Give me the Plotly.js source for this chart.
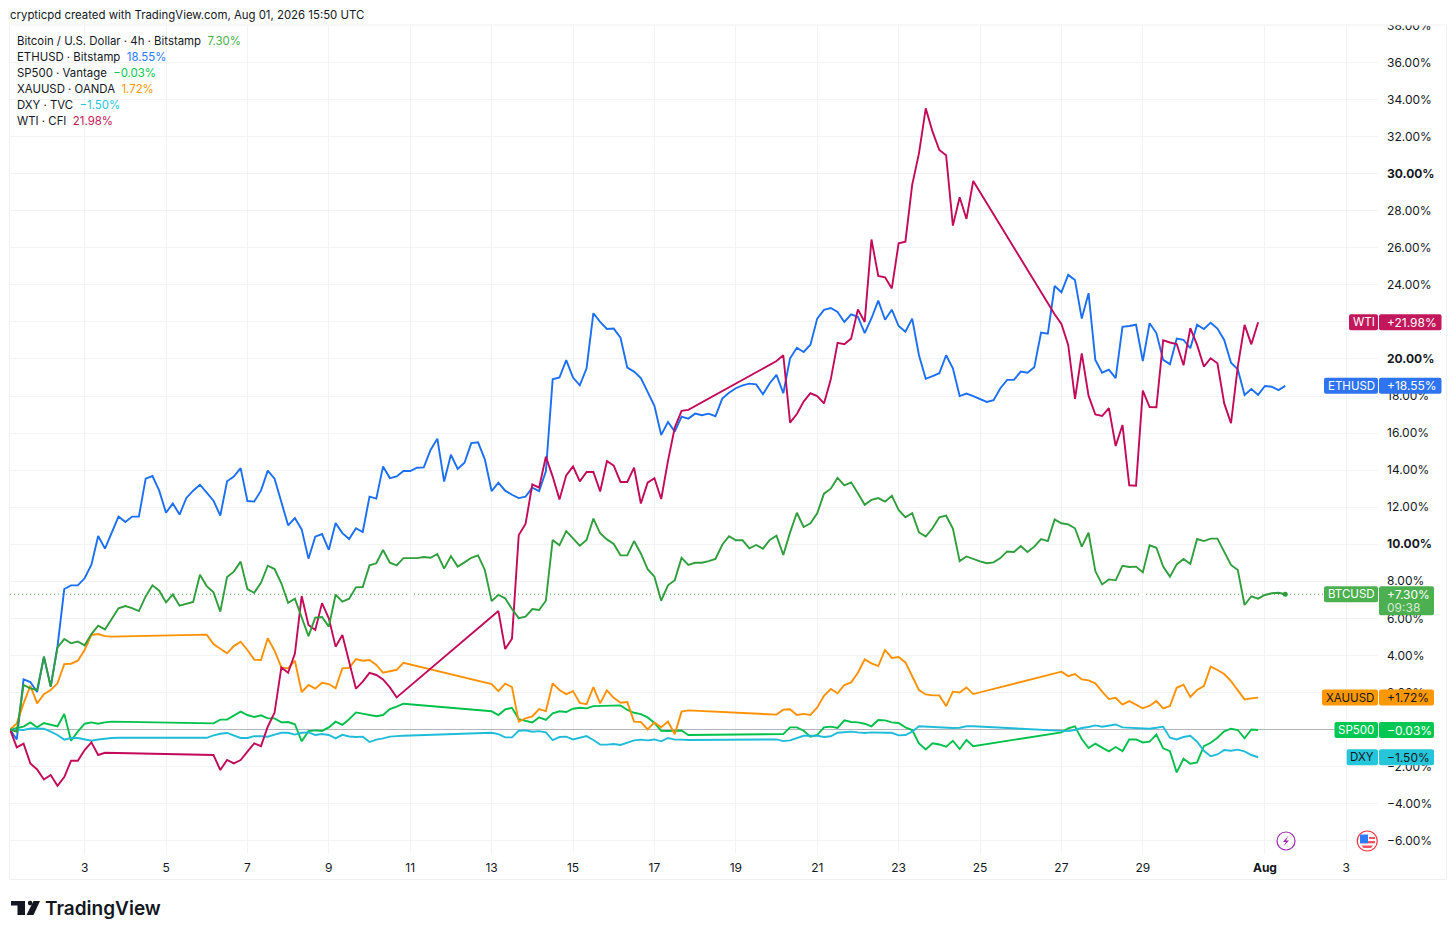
<!DOCTYPE html>
<html>
<head>
<meta charset="utf-8">
<script src="https://cdn.plot.ly/plotly-3.0.1.min.js"></script>
<style>
  html, body { margin: 0; padding: 0; background: #fff; }
  #chart { width: 1456px; height: 937px; }
</style>
</head>
<body>
<div id="chart"></div>
<script>
// percent change since the first 4h bar, one value per bar, null = market closed
var ethusd = [
  0,-0.54,2.70,2.56,2.02,3.93,2.31,4.47,7.58,7.78,
  7.78,8.16,8.89,10.44,9.76,10.59,11.49,11.2,11.49,11.49,
  13.54,13.68,12.89,11.7,12.2,11.6,12.5,12.89,13.21,12.78,
  12.35,11.54,13.4,13.65,14.11,12.33,12.3,12.89,13.97,13.54,
  12.31,11.02,11.41,10.8,9.22,10.41,10.55,9.7,11.14,10.6,
  10.28,10.86,10.66,12.57,12.46,14.2,13.57,13.66,13.95,13.95,
  14.13,14.15,15.09,15.7,13.38,14.83,14.06,14.4,15.46,15.5,
  14.58,12.87,13.32,12.89,12.67,12.49,12.57,13.05,12.87,13.93,
  18.9,19.0,19.94,19.0,18.58,19.5,22.47,22.0,21.62,21.64,
  21.15,19.53,19.32,18.97,18.22,17.47,15.9,16.6,16.08,16.89,
  16.78,17.05,16.96,17.05,16.91,17.86,18.18,18.42,18.58,18.67,
  18.63,18.09,18.69,19.14,18.15,20.04,20.61,20.38,20.77,22.18,
  22.65,22.75,22.54,22.0,22.41,22.28,21.4,22.2,23.15,22.12,
  22.66,21.78,21.47,22.18,20.2,18.93,19.08,19.23,20.2,19.5,
  18.0,18.13,18.0,17.84,17.68,17.77,18.42,18.87,18.87,19.32,
  19.26,19.55,21.42,21.37,23.94,23.6,24.54,24.26,22.18,23.55,
  19.95,19.26,19.42,18.97,21.73,21.78,21.85,19.89,21.93,21.4,
  19.95,19.72,21.1,21.03,20.58,21.85,21.62,21.96,21.64,21.03,
  19.8,19.44,18.06,18.38,18.06,18.54,18.5,18.32,18.55
];
var btcusd = [
  0,-0.12,2.4,2.22,2.13,3.93,2.31,4.43,4.88,4.65,
  4.75,4.54,5.15,5.6,5.4,5.94,6.54,6.66,6.55,6.39,
  7.18,7.78,7.49,6.86,7.29,6.68,6.8,6.88,8.35,7.74,
  7.4,6.36,8.23,8.52,9.06,7.58,7.38,7.92,8.84,8.66,
  7.89,6.84,7.06,6.0,5.04,6.03,6.07,5.55,7.27,6.9,
  7.06,7.67,7.69,8.86,8.97,9.69,9.0,8.86,9.25,9.25,
  9.25,9.31,9.27,9.47,8.68,9.36,8.79,9.02,9.27,9.4,
  8.61,6.93,7.27,7.08,6.5,6.01,6.09,6.5,6.45,6.95,
  10.23,9.94,10.71,10.32,9.92,10.23,11.38,10.59,10.26,10.01,
  9.4,9.4,10.17,9.5,8.65,8.25,6.95,7.78,8.06,9.26,
  8.88,9.0,9.0,9.09,9.2,9.97,10.43,10.21,10.21,9.78,
  9.96,9.76,10.23,10.46,9.42,10.64,11.7,10.93,11.13,11.67,
  12.73,13.0,13.58,13.18,13.34,12.75,12.13,12.39,12.49,12.3,
  12.62,11.85,11.45,11.67,10.64,10.41,10.86,11.45,11.54,10.84,
  9.09,9.34,9.2,9.07,8.97,9.02,9.25,9.61,9.58,9.9,
  9.58,9.87,10.28,10.17,11.34,11.13,11.07,10.86,9.87,10.62,
  8.55,7.83,8.1,8.05,8.84,8.77,8.79,8.48,9.94,9.81,
  8.79,8.25,8.91,9.2,8.93,10.28,10.17,10.3,10.3,9.6,
  8.88,8.61,6.72,7.19,7.06,7.26,7.35,7.38,7.3
];
var wti = [
  0,-0.97,-0.77,-1.83,-2.16,-2.7,-2.46,-3.04,-2.57,-1.69,
  -1.69,-1.11,-0.7,-1.38,-1.26,null,null,null,null,null,
  null,null,null,null,null,null,null,null,null,null,
  -1.38,-2.19,-1.65,-1.83,-1.65,-1.2,-0.75,-0.9,0.15,0.9,
  3.35,3.06,4.1,7.2,5.64,5.37,6.82,6.0,4.47,5.1,
  3.66,2.2,2.58,3.05,2.94,2.7,2.27,1.73,null,null,
  null,null,null,null,null,null,null,null,null,null,
  null,null,6.39,4.34,4.9,10.5,11.09,13.23,13.05,14.73,
  13.65,12.42,13.72,14.2,13.39,13.9,13.9,12.85,14.49,14.24,
  13.36,13.36,14.13,12.2,13.32,13.56,12.44,14.5,16.3,17.2,
  17.25,null,null,null,null,null,null,null,null,null,
  null,null,null,19.89,20.2,16.56,17.03,17.7,18.15,18.0,
  17.6,18.9,20.87,20.8,21.1,22.68,22.0,26.45,24.48,24.41,
  23.81,26.24,26.33,29.4,31.1,33.53,32.27,31.28,31.0,27.2,
  28.73,27.56,29.61,null,null,null,null,null,null,null,
  null,null,null,null,22.41,21.89,20.76,17.84,20.3,18.02,
  17.0,16.92,17.35,15.3,16.44,13.18,13.16,18.29,17.4,17.39,
  21.01,20.89,20.81,19.66,21.66,20.76,19.59,20.04,19.77,17.6,
  16.53,19.59,21.84,20.79,21.98
];
var xauusd = [
  0,0.33,1.41,2.36,1.41,1.9,2.13,2.49,3.53,3.55,
  3.71,4.29,5.1,5.15,5.04,5.01,null,null,null,null,
  null,null,null,null,null,null,null,null,null,5.12,
  4.61,4.36,4.11,4.5,4.74,4.29,3.77,3.75,4.92,4.25,
  3.35,3.3,3.71,2.02,2.4,2.2,2.52,2.45,2.22,3.3,
  3.32,3.8,3.71,3.75,3.48,3.06,3.13,3.22,3.6,null,
  null,null,null,null,null,null,null,null,null,null,
  null,2.45,2.07,2.47,2.29,0.42,0.6,0.71,1.1,0.99,
  2.49,2.13,1.91,2.07,1.43,1.37,2.29,1.41,2.11,1.71,
  1.44,1.48,0.42,0.4,0.0,0.38,0.12,0.43,-0.26,0.96,
  1.03,null,null,null,null,null,null,null,null,null,
  null,null,null,0.8,1.07,1.09,0.78,0.84,0.78,1.19,
  1.82,2.18,1.95,2.4,2.54,3.06,3.78,3.57,3.42,4.29,
  3.86,3.91,3.62,2.85,2.13,1.89,1.84,1.84,1.26,2.04,
  2.0,2.27,1.91,null,null,null,null,null,null,null,
  null,null,null,null,null,3.12,2.88,2.99,2.7,2.65,
  2.49,2.04,1.64,1.71,1.34,1.53,1.32,1.14,1.28,1.53,
  1.14,1.26,2.25,2.42,1.75,2.13,2.34,3.39,3.21,2.99,
  2.61,2.13,1.62,1.68,1.72
];
var sp500 = [
  0,0.06,0.15,0.38,0.11,0.35,0.24,0.17,0.83,-0.61,
  -0.12,0.31,0.38,0.31,0.38,0.42,null,null,null,null,
  null,null,null,null,null,null,null,null,null,null,
  0.33,0.53,0.53,0.74,0.96,0.78,0.67,0.76,0.6,0.6,
  0.38,0.4,0.28,-0.64,-0.09,-0.05,-0.08,0.11,0.42,0.25,
  0.55,0.92,0.85,0.78,0.71,0.78,1.1,1.23,1.39,null,
  null,null,null,null,null,null,null,null,null,null,
  null,0.98,0.78,1.08,1.17,0.56,0.45,0.38,0.65,0.51,
  0.87,0.98,0.94,1.12,1.17,1.14,1.26,1.26,1.28,1.28,
  1.3,1.05,0.9,0.83,0.65,0.35,-0.07,-0.08,-0.06,-0.06,
  -0.3,null,null,null,null,null,null,null,null,null,
  null,null,null,null,-0.25,0.11,0.11,-0.07,-0.39,-0.3,
  0.11,0.15,0.08,0.49,0.4,0.38,0.31,0.17,0.51,0.49,
  0.38,0.35,0.11,-0.03,-0.75,-1.08,-0.75,-0.81,-0.93,-0.61,
  -1.06,-0.57,-0.9,null,null,null,null,null,null,null,
  null,null,null,null,null,-0.16,0.06,0.17,-0.52,-1.0,
  -0.77,-0.98,-1.18,-0.95,-1.17,-0.54,-0.54,-0.7,-0.66,-0.28,
  -1.02,-1.17,-2.32,-1.58,-1.85,-1.78,-0.9,-0.72,-0.45,-0.1,
  0.04,-0.03,-0.48,0.0,-0.03
];
var dxy = [
  0,0,-0.03,0.06,0.06,0.04,-0.12,-0.3,-0.55,-0.46,
  -0.46,-0.52,-0.61,-0.54,-0.48,-0.46,-0.45,null,null,null,
  null,null,null,null,null,null,null,null,null,-0.45,
  -0.32,-0.23,-0.19,-0.34,-0.46,-0.46,-0.36,-0.37,-0.39,-0.28,
  -0.18,-0.18,-0.28,-0.18,-0.16,-0.3,-0.25,-0.3,-0.48,-0.29,
  -0.38,-0.41,-0.39,-0.68,-0.55,-0.48,-0.39,-0.36,-0.34,null,
  null,null,null,null,null,null,null,null,null,null,
  null,-0.18,-0.25,-0.43,-0.43,-0.07,-0.05,-0.12,-0.09,-0.16,
  -0.57,-0.41,-0.39,-0.54,-0.46,-0.36,-0.57,-0.82,-0.82,-0.79,
  -0.84,-0.72,-0.59,-0.55,-0.59,-0.54,-0.64,-0.46,-0.55,-0.55,
  -0.57,null,null,null,null,null,null,null,null,null,
  null,null,null,-0.54,-0.63,-0.59,-0.46,-0.34,-0.34,-0.34,
  -0.41,-0.37,-0.18,-0.14,-0.12,-0.16,-0.19,-0.16,-0.19,-0.18,
  -0.18,-0.32,-0.3,-0.12,0.17,0.15,0.13,0.09,0.06,0.08,
  0.09,0.17,0.17,null,null,null,null,null,null,null,
  null,null,null,null,-0.07,-0.1,-0.09,-0.03,0.08,0.13,
  0.22,0.15,0.2,0.27,0.11,0.09,0.08,0.04,0.04,0.09,
  0.15,-0.45,-0.54,-0.41,-0.34,-0.66,-1.15,-1.44,-1.35,-1.11,
  -1.15,-1.09,-1.18,-1.38,-1.5
];

var xTickVals = [3,5,7,9,11,13,15,17,19,21,23,25,27,29,32,34];
var xTickText = ['3','5','7','9','11','13','15','17','19','21','23','25','27','29','<b>Aug</b>','3'];
var yTickVals = [-6,-4,-2,0,2,4,6,8,10,12,14,16,18,20,22,24,26,28,30,32,34,36,38];
var yTickText = ['−6.00%','−4.00%','−2.00%','0.00%','2.00%','4.00%','6.00%','8.00%','<b>10.00%</b>','12.00%','14.00%','16.00%','18.00%','<b>20.00%</b>','22.00%','24.00%','26.00%','28.00%','<b>30.00%</b>','32.00%','34.00%','36.00%','38.00%'];

var legendNames = ['Bitcoin / U.S. Dollar · 4h · Bitstamp','ETHUSD · Bitstamp','SP500 · Vantage','XAUUSD · OANDA','DXY · TVC','WTI · CFI'];
var legendValues = ['7.30%','18.55%','−0.03%','1.72%','−1.50%','21.98%'];
var legendColors = ['#4caf50','#2979ff','#00c853','#ff9800','#26c6da','#c2185b'];

// price tags on the right
var tagNames = ['WTI','ETHUSD','BTCUSD','XAUUSD','SP500','DXY'];
var tagTexts = ['+21.98%','+18.55%','+7.30%','+1.72%','−0.03%','−1.50%'];
var tagValues = [21.98,18.55,7.30,1.72,-0.03,-1.50];
var tagColors = ['#c2185b','#2e73f0','#4caf50','#ff9800','#00c853','#26c6da'];
var tagInk = ['#fff','#fff','#fff','#131722','#fff','#131722'];
var tagLeft = [1349,1324,1324,1322,1334.5,1346.7];
var tagRight = [1441.5,1441.5,1434,1434,1434,1434];

// plot box in page pixels
var L = 10, R = 1378, T = 25, B = 853;
function px(x) { return (x - L) / (R - L); }
function py(y) { return (B - y) / (B - T); }

var days = [];
for (var i = 0; i < ethusd.length; i++) days.push(1 + 4/24 + i/6);

function line(name, y, color) {
  return {x: days, y: y, name: name, type: 'scatter', mode: 'lines', connectgaps: true,
          line: {color: color, width: 1.9}, hoverinfo: 'skip'};
}
var traces = [
  line('ETHUSD', ethusd, '#1a6ff2'),
  line('SP500', sp500, '#00c04b'),
  line('XAUUSD', xauusd, '#ff9100'),
  line('DXY', dxy, '#1fbcd9'),
  line('WTI', wti, '#c2095a'),
  line('BTCUSD', btcusd, '#2f9e3c'),
  {x: [days[days.length-1]], y: [btcusd[btcusd.length-1]], type: 'scatter', mode: 'markers',
   marker: {color: '#2f9e3c', size: 5}, hoverinfo: 'skip'}
];

function rrect(x0, y0, x1, y1, r) {
  return 'M' + (x0+r) + ',' + y0 + ' L' + (x1-r) + ',' + y0 + ' Q' + x1 + ',' + y0 + ' ' + x1 + ',' + (y0+r) +
    ' L' + x1 + ',' + (y1-r) + ' Q' + x1 + ',' + y1 + ' ' + (x1-r) + ',' + y1 +
    ' L' + (x0+r) + ',' + y1 + ' Q' + x0 + ',' + y1 + ' ' + x0 + ',' + (y1-r) +
    ' L' + x0 + ',' + (y0+r) + ' Q' + x0 + ',' + y0 + ' ' + (x0+r) + ',' + y0 + ' Z';
}
function pagePath(points) {
  return 'M' + points.map(function(p) { return px(p[0]) + ',' + py(p[1]); }).join(' L') + ' Z';
}
function pixelShape(cx, cy, x0, y0, x1, y1, fill, stroke, w, kind) {
  return {type: kind || 'rect', layer: 'above', xref: 'paper', yref: 'paper', xsizemode: 'pixel', ysizemode: 'pixel',
          xanchor: px(cx), yanchor: py(cy), x0: x0, y0: y0, x1: x1, y1: y1,
          fillcolor: fill, line: {color: stroke || fill, width: w || 0}};
}

var shapes = [
  // hides the upper half of the top tick label
  {type: 'rect', layer: 'above', xref: 'paper', yref: 'paper', x0: px(1380), x1: px(1445), y0: py(25), y1: py(10),
   fillcolor: '#fff', line: {width: 0}},
  // frame
  {type: 'rect', layer: 'above', xref: 'paper', yref: 'paper', x0: px(9.5), x1: px(1446.5), y0: py(879.5), y1: py(25),
   line: {color: '#f0f1f3', width: 1}},
  // last price line
  {type: 'line', layer: 'below', xref: 'paper', yref: 'y', x0: 0, x1: px(1324), y0: 7.30, y1: 7.30,
   line: {color: '#4caf50', width: 1, dash: '1px,3px'}},
  // logo
  {type: 'path', layer: 'above', xref: 'paper', yref: 'paper', line: {width: 0}, fillcolor: '#131722',
   path: pagePath([[11,901],[25,901],[25,915],[17.5,915],[17.5,905.5],[11,905.5]])},
  {type: 'path', layer: 'above', xref: 'paper', yref: 'paper', line: {width: 0}, fillcolor: '#131722',
   path: pagePath([[33.5,901],[40,901],[33.5,915],[26.5,915]])},
  {type: 'circle', layer: 'above', xref: 'paper', yref: 'paper', line: {width: 0}, fillcolor: '#131722',
   x0: px(27.8), x1: px(32.4), y0: py(905.4), y1: py(900.8)},
  // lightning event marker
  pixelShape(1286, 841, -9, -9, 9, 9, '#fff', '#9c27b0', 1.2, 'circle'),
  {type: 'path', layer: 'above', xref: 'paper', yref: 'paper', line: {width: 0}, fillcolor: '#9c27b0',
   path: pagePath([[1288.5,835.5],[1283,842],[1286,842],[1283.5,846.5],[1289,840.5],[1286,840.5]])},
  // flag event marker
  pixelShape(1367.3, 841, -10, -10, 10, 10, '#fff', '#f23645', 1.2, 'circle'),
  {type: 'path', layer: 'above', xref: 'paper', yref: 'paper', line: {width: 0}, fillcolor: '#f7525f',
   path: pagePath([[1369,837],[1375,837],[1375,839],[1369,839]])},
  {type: 'path', layer: 'above', xref: 'paper', yref: 'paper', line: {width: 0}, fillcolor: '#f7525f',
   path: pagePath([[1360,841],[1375,841],[1375,843.3],[1360,843.3]])},
  {type: 'path', layer: 'above', xref: 'paper', yref: 'paper', line: {width: 0}, fillcolor: '#f7525f',
   path: pagePath([[1361.5,845.5],[1373,845.5],[1371,848],[1363.5,848]])},
  {type: 'path', layer: 'above', xref: 'paper', yref: 'paper', line: {width: 0}, fillcolor: '#2e7df6',
   path: pagePath([[1360,834.5],[1368,834.5],[1368,843.3],[1360,843.3]])}
];

var fontFam = 'Inter, "Liberation Sans", sans-serif';
var annotations = [
  {xref: 'paper', yref: 'paper', x: px(7.5), y: py(15), xanchor: 'left', yanchor: 'middle', showarrow: false,
   text: 'crypticpd created with TradingView.com, Aug 01, 2026 15:50 UTC', font: {family: fontFam, size: 11.4, color: '#131722'}},
  {xref: 'paper', yref: 'paper', x: px(43), y: py(908), xanchor: 'left', yanchor: 'middle', showarrow: false,
   text: 'TradingView', font: {family: fontFam, size: 19, weight: 600, color: '#131722'}}
];
legendNames.forEach(function(name, i) {
  annotations.push({xref: 'paper', yref: 'paper', x: px(15), y: py(41 + i * 16), xanchor: 'left', yanchor: 'middle', showarrow: false,
    text: name + '  <span style="color:' + legendColors[i] + '">' + legendValues[i] + '</span>',
    font: {family: fontFam, size: 11.4, color: '#131722'}});
});
tagNames.forEach(function(name, i) {
  var isBtc = name === 'BTCUSD';
  var common = {type: 'path', layer: 'above', xref: 'paper', yref: 'y', xsizemode: 'pixel', ysizemode: 'pixel',
                yanchor: tagValues[i], fillcolor: tagColors[i], line: {width: 0}};
  shapes.push(Object.assign({}, common, {xanchor: px(1378), path: rrect(tagLeft[i] - 1378, -8, 0, 8, 2)}));
  shapes.push(Object.assign({}, common, {xanchor: px(1379), path: rrect(0, isBtc ? -21 : -8, tagRight[i] - 1379, 8, 2)}));
  annotations.push({xref: 'paper', yref: 'y', x: px((tagLeft[i] + 1378) / 2), y: tagValues[i], xanchor: 'center', yanchor: 'middle',
    showarrow: false, text: name, font: {family: fontFam, size: 11.5, color: tagInk[i]}});
  annotations.push({xref: 'paper', yref: 'y', x: px(1385), y: tagValues[i], xanchor: 'left', yanchor: 'middle',
    showarrow: false, text: tagTexts[i], font: {family: fontFam, size: 12, color: tagInk[i]}});
  if (isBtc) {
    annotations.push({xref: 'paper', yref: 'y', x: px(1385), y: tagValues[i], yshift: -13, xanchor: 'left', yanchor: 'middle',
      showarrow: false, text: '09:38', font: {family: fontFam, size: 12, color: '#d5ecd6'}});
  }
});

var layout = {
  width: 1456, height: 937,
  margin: {l: L, r: 1456 - R, t: T, b: 937 - B, pad: 0},
  paper_bgcolor: '#fff', plot_bgcolor: '#fff',
  showlegend: false,
  font: {family: fontFam, size: 12, color: '#131722'},
  xaxis: {type: 'linear', range: [1 + 4/24, 1 + 4/24 + (R - L) / 40.7], tickvals: xTickVals, ticktext: xTickText,
          showgrid: true, gridcolor: '#f2f3f5', gridwidth: 1, zeroline: false, showline: false, ticks: '', ticklabelstandoff: 6},
  yaxis: {type: 'linear', side: 'right', range: [-6.67, 38.03], tickvals: yTickVals, ticktext: yTickText,
          showgrid: true, gridcolor: '#f2f3f5', gridwidth: 1, zeroline: true, zerolinecolor: '#b2b5be', zerolinewidth: 1.3,
          showline: false, ticks: '', ticklabelstandoff: 8},
  shapes: shapes,
  annotations: annotations
};

Plotly.newPlot('chart', traces, layout, {displayModeBar: false, staticPlot: true});
</script>
</body>
</html>
